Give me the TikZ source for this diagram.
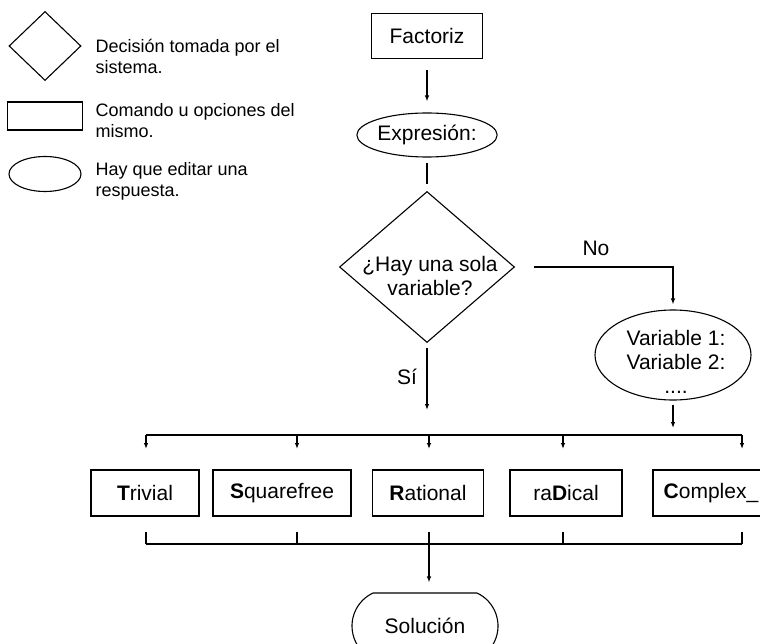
\documentclass[tikz,border=0pt]{standalone}
\usepackage{fontspec}
\setmainfont{Liberation Sans}
\usepackage{tikz}
\usetikzlibrary{shapes.geometric,shapes.misc,arrows.meta}

\begin{document}
\begin{tikzpicture}[x=1pt,y=-1pt,line width=1.1pt,
  cmd/.style={draw,rectangle,inner sep=0pt,minimum height=46pt,font=\fontsize{21}{25}\selectfont},
  answer/.style={draw,ellipse,inner sep=0pt},
  decision/.style={draw,diamond,inner sep=0pt},
  txt/.style={font=\fontsize{21}{24}\selectfont,align=center},
  legtxt/.style={font=\fontsize{18}{21}\selectfont,align=left,anchor=west,inner sep=0pt},
  flow/.style={-{Latex[length=6pt,width=4.5pt]}}]

\useasboundingbox (0,0) rectangle (760,644);

\node[decision,minimum width=72pt,minimum height=69pt] (legdec) at (45,46) {};
\node[legtxt] (legdectxt) at (95,56) {Decisión tomada por el\\sistema.};
\node[draw,rectangle,minimum width=75pt,minimum height=28pt,inner sep=0pt] (legcmd) at (45,116) {};
\node[legtxt] (legcmdtxt) at (95,121) {Comando u opciones del\\mismo.};
\node[answer,minimum width=72pt,minimum height=35pt] (legans) at (45,174) {};
\node[legtxt] (leganstxt) at (95,181) {Hay que editar una\\respuesta.};

\node[cmd,minimum width=111pt,minimum height=45pt] (fact) at (427,36) {Factoriz};
\node[answer,txt,minimum width=136pt,minimum height=44pt] (expr) at (427,135) {Expresión:};
\node[decision,minimum width=175pt,minimum height=151pt] (dec) at (427,267) {};
\node[txt] (dectxt) at (430,276) {¿Hay una sola\\variable?};
\node[answer,minimum width=156pt,minimum height=90pt] (vars) at (673,355) {};
\node[txt] (varstxt) at (676,362) {Variable 1:\\Variable 2:\\....};
\node[txt] (no) at (596,248) {No};
\node[txt] (si) at (407,377) {Sí};

\node[cmd,minimum width=108pt] (triv) at (145,493) {\textbf{T}rivial};
\node[cmd,minimum width=138pt] (sqf) at (282,493) {\textbf{S}quarefree};
\node[cmd,minimum width=111pt] (rat) at (428,493) {\textbf{R}ational};
\node[cmd,minimum width=112pt] (rad) at (566,493) {ra\textbf{D}ical};
\node[cmd,minimum width=116pt] (cplx) at (711,493) {\textbf{C}omplex\_};

\node[draw,rounded rectangle,rounded rectangle arc length=130,inner sep=0pt,
  minimum width=146pt,minimum height=66pt,txt] (sol) at (425,626) {Solución};

\draw[flow,shorten <=11pt,shorten >=11pt] (fact) -- (expr);
\draw[shorten <=5pt,shorten >=7pt] (expr) -- (dec);
\draw[flow,shorten <=19pt,shorten >=5pt] (dec.east) -| (vars.north);
\coordinate (siend) at (427,410);
\draw[flow,shorten <=5pt] (dec.south) -- (siend);
\coordinate (varsend) at (673,428);
\draw[flow,shorten <=4pt] (vars.south) -- (varsend);

\foreach \x/\n in {146/1,297/2,429/3,563/4,742/5}{
  \coordinate (top\n) at (\x,435);
  \coordinate (in\n) at (\x,449);
  \coordinate (out\n) at (\x,532);
  \coordinate (bot\n) at (\x,544);
  \draw[flow] (top\n) -- (in\n);
  \draw (out\n) -- (bot\n);
}
\draw (top1) -- (top5);
\draw (bot1) -- (bot5);
\draw[flow,shorten >=10pt] (bot3) -- (bot3 |- sol.north);

\end{tikzpicture}
\end{document}
